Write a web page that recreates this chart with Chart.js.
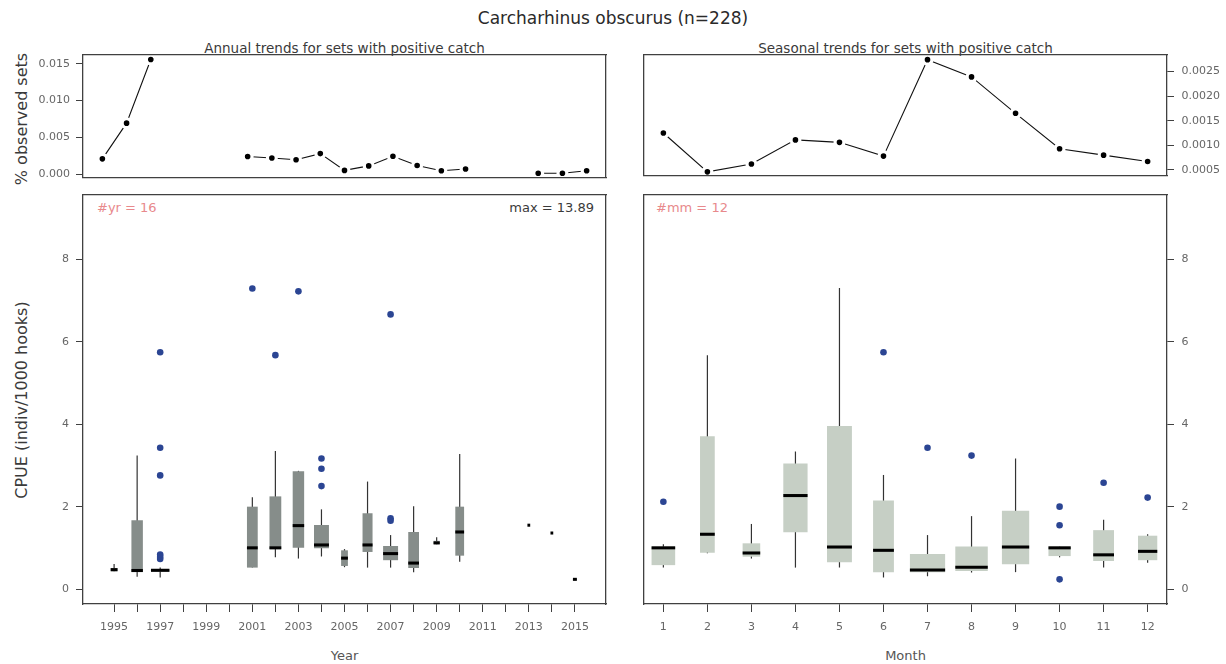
<!DOCTYPE html>
<html lang="en">
<head>
<meta charset="UTF-8">
<title>Carcharhinus obscurus - CPUE trends</title>
<script src="https://cdn.jsdelivr.net/npm/chart.js"></script>
<style>
    * { margin: 0; padding: 0; box-sizing: border-box; }
    body { background: #fff; font-family: "DejaVu Sans", sans-serif; color: #333; }
    .page { position: relative; width: 1226px; height: 664px; overflow: hidden; }
    canvas { position: absolute; }
    .txt { position: absolute; white-space: nowrap; line-height: 1; transform: translate(-50%, -50%); }
    .rot { transform: translate(-50%, -50%) rotate(-90deg); }
    .left { transform: translate(0, -50%); }
    .right { transform: translate(-100%, -50%); }
    .main-title { font-size: 17px; color: #2a2a2a; }
    .sub-title { font-size: 13.5px; color: #3a3a3a; }
    .axis-title { font-size: 16px; color: #3a3a3a; }
    .x-title { font-size: 13px; color: #555; }
    .note { font-size: 13px; color: #3a3a3a; }
    .count { color: #e8898c; }
</style>
</head>
<body>
<div class="page">
    <div class="txt main-title" style="left:613px; top:18px;">Carcharhinus obscurus (n=228)</div>
    <div class="txt sub-title" style="left:344.5px; top:49px;">Annual trends for sets with positive catch</div>
    <div class="txt sub-title" style="left:905.5px; top:49px;">Seasonal trends for sets with positive catch</div>
    <div class="txt axis-title rot" style="left:22px; top:119px;">% observed sets</div>
    <div class="txt axis-title rot" style="left:22px; top:400px;">CPUE (indiv/1000 hooks)</div>
    <div class="txt note count left" style="left:97px; top:207px;">#yr = 16</div>
    <div class="txt note right" style="left:594px; top:207px;">max = 13.89</div>
    <div class="txt note count left" style="left:656px; top:207px;">#mm = 12</div>
    <div class="txt x-title" style="left:344.5px; top:655px;">Year</div>
    <div class="txt x-title" style="left:905.5px; top:655px;">Month</div>

    <canvas id="annualTrend" width="620" height="150" style="left:0; top:40px; width:620px; height:150px;"></canvas>
    <canvas id="seasonalTrend" width="606" height="150" style="left:620px; top:40px; width:606px; height:150px;"></canvas>
    <canvas id="annualBox" width="620" height="484" style="left:0; top:180px; width:620px; height:484px;"></canvas>
    <canvas id="seasonalBox" width="606" height="484" style="left:620px; top:180px; width:606px; height:484px;"></canvas>
</div>

<script>
// ---- data ----
const YEARS = [1995, 1996, 1997, 1998, 1999, 2000, 2001, 2002, 2003, 2004, 2005,
               2006, 2007, 2008, 2009, 2010, 2011, 2012, 2013, 2014, 2015];
const PCT_YEAR = [0.00209, 0.00693, 0.01556, null, null, null, 0.0024, 0.0022, 0.00196, 0.0028, 0.00052,
                  0.00113, 0.00244, 0.00118, 0.00048, 0.0007, null, null, 0.00013, 0.00013, 0.00048];

const MONTHS = [1, 2, 3, 4, 5, 6, 7, 8, 9, 10, 11, 12];
const PCT_MONTH = [0.00125, 0.00046, 0.00062, 0.00111, 0.00106, 0.00078,
                   0.00274, 0.00239, 0.00165, 0.00093, 0.0008, 0.00067];

// boxplot by year (n = sets, used for variable box width)
const BOX_YEARS = [1995, 1996, 1997, 2001, 2002, 2003, 2004, 2005, 2006, 2007, 2008, 2009, 2010, 2013, 2014, 2015];
const YEAR_N    = [6, 17, 44, 15, 18, 17, 29, 6, 13, 29, 15, 5, 10, 1, 1, 2];
const YEAR_LO   = [0.43, 0.30, 0.28, 0.52, 0.77, 0.74, 0.79, 0.53, 0.52, 0.52, 0.41, 1.09, 0.66, 1.55, 1.36, 0.22];
const YEAR_Q1   = [0.43, 0.41, 0.42, 0.52, 0.97, 1.00, 0.99, 0.56, 0.90, 0.70, 0.51, 1.09, 0.81, 1.55, 1.36, 0.22];
const YEAR_MED  = [0.47, 0.45, 0.455, 1.00, 1.00, 1.54, 1.07, 0.75, 1.07, 0.86, 0.63, 1.12, 1.385, 1.55, 1.36, 0.235];
const YEAR_Q3   = [0.51, 1.67, 0.48, 2.00, 2.25, 2.86, 1.555, 0.94, 1.84, 1.045, 1.385, 1.17, 2.00, 1.55, 1.36, 0.25];
const YEAR_HI   = [0.61, 3.24, 0.52, 2.23, 3.35, 2.87, 1.935, 0.97, 2.61, 1.31, 2.01, 1.255, 3.28, 1.55, 1.36, 0.25];
const YEAR_OUT_X = [1997, 1997, 1997, 1997, 1997, 1997, 2001, 2002, 2003, 2004, 2004, 2004, 2007, 2007, 2007];
const YEAR_OUT_Y = [0.73, 0.78, 0.84, 2.76, 3.43, 5.75, 7.30, 5.68, 7.23, 2.50, 2.92, 3.17, 1.66, 1.72, 6.67];

// boxplot by month
const MONTH_N    = [18, 7, 10, 19, 20, 14, 40, 34, 24, 16, 14, 12];
const MONTH_LO   = [0.52, 0.87, 0.74, 0.52, 0.52, 0.28, 0.31, 0.40, 0.41, 0.77, 0.52, 0.64];
const MONTH_Q1   = [0.58, 0.88, 0.785, 1.38, 0.65, 0.405, 0.405, 0.44, 0.60, 0.80, 0.68, 0.70];
const MONTH_MED  = [1.00, 1.33, 0.875, 2.27, 1.02, 0.94, 0.46, 0.53, 1.02, 1.00, 0.83, 0.915];
const MONTH_Q3   = [1.03, 3.71, 1.11, 3.05, 3.96, 2.15, 0.85, 1.03, 1.90, 1.03, 1.43, 1.295];
const MONTH_HI   = [1.09, 5.68, 1.58, 3.34, 7.31, 2.77, 1.31, 1.77, 3.17, 1.03, 1.68, 1.33];
const MONTH_OUT_X = [1, 6, 7, 8, 10, 10, 10, 11, 12];
const MONTH_OUT_Y = [2.12, 5.75, 3.43, 3.24, 2.00, 1.55, 0.235, 2.58, 2.22];

// tick labels
const PCT_YEAR_TICKS = [0, 0.005, 0.010, 0.015];
const PCT_MONTH_TICKS = [0.0005, 0.0010, 0.0015, 0.0020, 0.0025];
const CPUE_TICKS = [0, 2, 4, 6, 8];

// ---- styling ----
const FRAME = '#404040';
const INK = '#666';
const MED_HALF = 0.037;   // half thickness of the median bar, in CPUE units

Chart.defaults.font.family = '"DejaVu Sans", sans-serif';
Chart.defaults.font.size = 11;
Chart.defaults.color = INK;
Chart.defaults.animation = false;
Chart.defaults.plugins.legend.display = false;
Chart.defaults.plugins.tooltip.enabled = false;

function setSize(size) {
    return s => { if (s.isHorizontal()) s.height = size; else s.width = size; };
}

// plain frame side: just the border line
function edge(position, size, min = 0, max = 1) {
    return {
        type: 'linear', position, min, max, offset: false,
        ticks: { display: false },
        grid: { display: false },
        border: { display: true, color: FRAME, width: 1.3, z: 1 },
        afterFit: setSize(size)
    };
}

// frame side with tick marks and labels
function valueAxis(position, min, max, ticks, fmt, size, pad, tickLen) {
    return {
        type: 'linear', position, min, max, offset: false,
        afterBuildTicks: s => { s.ticks = ticks.map(v => ({ value: v })); },
        ticks: { callback: fmt, autoSkip: false, maxRotation: 0, minRotation: 0, padding: pad, color: INK },
        grid: { display: true, offset: false, drawOnChartArea: false, drawTicks: true, tickLength: tickLen, color: FRAME, lineWidth: 1 },
        border: { display: true, color: FRAME, width: 1.3, z: 1 },
        afterFit: setSize(size)
    };
}

function trendDataset(xs, ys) {
    return {
        data: xs.map((x, i) => ({ x, y: ys[i] })),
        borderColor: '#111',
        borderWidth: 1.1,
        tension: 0,
        spanGaps: false,
        pointRadius: 4.4,
        pointBorderWidth: 3.2,
        pointBorderColor: '#fff',
        pointBackgroundColor: '#000'
    };
}

function boxDatasets(xs, n, lo, q1, med, q3, hi, outX, outY, fill) {
    const nMax = Math.max(...n);
    const sets = [{
        type: 'bar',
        data: xs.map((x, i) => ({ x, y: [lo[i], hi[i]] })),
        backgroundColor: '#333',
        barThickness: 1.2,
        inflateAmount: 0,
        grouped: false,
        order: 3
    }];
    xs.forEach((x, i) => {
        sets.push({
            type: 'bar',
            data: [{ x, y: [q1[i], q3[i]] }, { x, y: [med[i] - MED_HALF, med[i] + MED_HALF] }],
            backgroundColor: [fill, '#000'],
            barPercentage: 0.8 * Math.sqrt(n[i] / nMax),   // varwidth boxes
            categoryPercentage: 1,
            inflateAmount: 0,
            grouped: false,
            order: 2
        });
    });
    sets.push({
        type: 'scatter',
        data: outX.map((x, i) => ({ x, y: outY[i] })),
        pointRadius: 3.3,
        pointBorderWidth: 0,
        pointBackgroundColor: '#2b4593',
        order: 1
    });
    return sets;
}

// top left: annual share of observed sets
new Chart(document.getElementById('annualTrend'), {
    type: 'line',
    data: { datasets: [trendDataset(YEARS, PCT_YEAR)] },
    options: {
        responsive: false,
        scales: {
            x: edge('bottom', 8, 1994.2, 2015.8),
            x2: edge('top', 15),
            y: valueAxis('left', -0.00043, 0.01618, PCT_YEAR_TICKS, v => v.toFixed(3), 83, 6, 7),
            y2: edge('right', 14)
        }
    }
});

// top right: seasonal share of observed sets
new Chart(document.getElementById('seasonalTrend'), {
    type: 'line',
    data: { datasets: [trendDataset(MONTHS, PCT_MONTH)] },
    options: {
        responsive: false,
        scales: {
            x: edge('bottom', 8, 0.56, 12.44),
            x2: edge('top', 15),
            y: valueAxis('right', 0.000378, 0.002835, PCT_MONTH_TICKS, v => v.toFixed(4), 59, 7.5, 7),
            y2: edge('left', 24)
        }
    }
});

// bottom left: CPUE by year
new Chart(document.getElementById('annualBox'), {
    type: 'bar',
    data: {
        datasets: boxDatasets(BOX_YEARS, YEAR_N, YEAR_LO, YEAR_Q1, YEAR_MED, YEAR_Q3, YEAR_HI,
                              YEAR_OUT_X, YEAR_OUT_Y, '#868d8a')
    },
    options: {
        responsive: false,
        scales: {
            x: valueAxis('bottom', 1993.65, 2016.35, YEARS, v => (v % 2 === 1 ? String(v) : ''), 60, 9, 8),
            x2: edge('top', 15),
            y: valueAxis('left', -0.364, 9.57, CPUE_TICKS, v => String(v), 83, 7, 7),
            y2: edge('right', 14)
        }
    }
});

// bottom right: CPUE by month
new Chart(document.getElementById('seasonalBox'), {
    type: 'bar',
    data: {
        datasets: boxDatasets(MONTHS, MONTH_N, MONTH_LO, MONTH_Q1, MONTH_MED, MONTH_Q3, MONTH_HI,
                              MONTH_OUT_X, MONTH_OUT_Y, '#c6cfc5')
    },
    options: {
        responsive: false,
        scales: {
            x: valueAxis('bottom', 0.56, 12.44, MONTHS, v => String(v), 60, 9, 8),
            x2: edge('top', 15),
            y: valueAxis('right', -0.364, 9.57, CPUE_TICKS, v => String(v), 59, 7.5, 7),
            y2: edge('left', 24)
        }
    }
});
</script>
</body>
</html>
